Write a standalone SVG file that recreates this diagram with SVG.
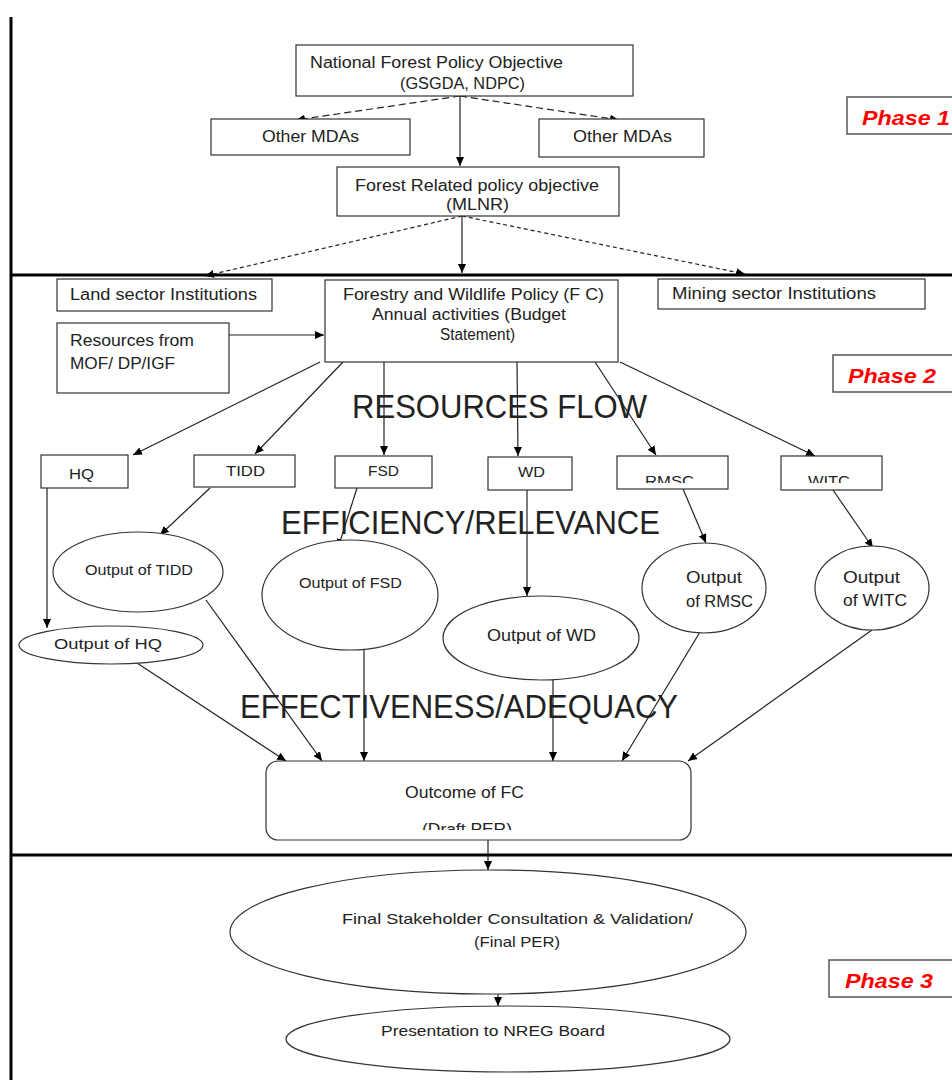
<svg xmlns="http://www.w3.org/2000/svg" width="952" height="1080" viewBox="0 0 952 1080">
<style>
.bx{fill:#fff;stroke:#333;stroke-width:1.2}
.el{fill:#fff;stroke:#333;stroke-width:1.2}
.t{font-family:"Liberation Sans",Arial,sans-serif;font-size:16px;fill:#222}
.s{font-size:15px}
.big{font-family:"Liberation Sans",Arial,sans-serif;font-size:33px;fill:#222}
.ph{font-family:"Liberation Sans",Arial,sans-serif;font-size:21px;font-weight:bold;font-style:italic;fill:#f00}
.pb{fill:#fff;stroke:#555;stroke-width:1.5}
.c{stroke:#222;stroke-width:1.2;fill:none}
.d1{stroke-dasharray:7 4}
.d2{stroke-dasharray:4 3}
.sep{stroke:#000;stroke-width:3;fill:none}
</style>
<defs>
<marker id="a" markerUnits="userSpaceOnUse" markerWidth="10" markerHeight="10" refX="9" refY="5" orient="auto">
<path d="M0,1 L9,5 L0,9 z" fill="#000"/>
</marker>
<clipPath id="cl1"><rect x="600" y="440" width="300" height="43"/></clipPath>
<clipPath id="cl2"><rect x="260" y="760" width="440" height="70"/></clipPath>
</defs>
<rect width="952" height="1080" fill="#fff"/>

<g id="frame">
<line class="sep" x1="11" y1="17" x2="11" y2="1080"/>
<line class="sep" x1="10" y1="275" x2="952" y2="275"/>
<line class="sep" x1="10" y1="855" x2="952" y2="855"/>
</g>

<g id="connectors">
<line class="c" x1="460" y1="96" x2="460" y2="166" marker-end="url(#a)"/>
<line class="c d1" x1="460" y1="96" x2="296" y2="120" marker-end="url(#a)"/>
<line class="c d1" x1="460" y1="96" x2="619" y2="120" marker-end="url(#a)"/>
<line class="c" x1="462" y1="216" x2="462" y2="273" marker-end="url(#a)"/>
<line class="c d2" x1="462" y1="216" x2="205" y2="276" marker-end="url(#a)"/>
<line class="c d2" x1="462" y1="216" x2="745" y2="274" marker-end="url(#a)"/>
<line class="c" x1="229" y1="335" x2="324" y2="335" marker-end="url(#a)"/>
<line class="c" x1="320" y1="362" x2="133" y2="455" marker-end="url(#a)"/>
<line class="c" x1="343" y1="362" x2="255" y2="454" marker-end="url(#a)"/>
<line class="c" x1="384" y1="362" x2="384" y2="455" marker-end="url(#a)"/>
<line class="c" x1="517" y1="362" x2="518" y2="456" marker-end="url(#a)"/>
<line class="c" x1="595" y1="362" x2="656" y2="455" marker-end="url(#a)"/>
<line class="c" x1="620" y1="362" x2="815" y2="456" marker-end="url(#a)"/>
<line class="c" x1="47" y1="488" x2="47" y2="628" marker-end="url(#a)"/>
<line class="c" x1="210" y1="488" x2="160" y2="535" marker-end="url(#a)"/>
<line class="c" x1="357" y1="488" x2="338" y2="548" marker-end="url(#a)"/>
<line class="c" x1="527" y1="490" x2="527" y2="596" marker-end="url(#a)"/>
<line class="c" x1="683" y1="489" x2="706" y2="543" marker-end="url(#a)"/>
<line class="c" x1="833" y1="490" x2="873" y2="548" marker-end="url(#a)"/>
<line class="c" x1="137" y1="663" x2="286" y2="761" marker-end="url(#a)"/>
<line class="c" x1="206" y1="600" x2="322" y2="761" marker-end="url(#a)"/>
<line class="c" x1="364" y1="650" x2="364" y2="761" marker-end="url(#a)"/>
<line class="c" x1="553" y1="679" x2="553" y2="761" marker-end="url(#a)"/>
<line class="c" x1="700" y1="632" x2="622" y2="761" marker-end="url(#a)"/>
<line class="c" x1="872" y1="630" x2="688" y2="761" marker-end="url(#a)"/>
<line class="c" x1="488" y1="840" x2="488" y2="870" marker-end="url(#a)"/>
<line class="c" x1="498" y1="994" x2="498" y2="1006" marker-end="url(#a)"/>
</g>

<g id="labels">
<text class="big" x="352" y="418" textLength="295" lengthAdjust="spacingAndGlyphs">RESOURCES FLOW</text>
<text class="big" x="281" y="534" textLength="379" lengthAdjust="spacingAndGlyphs">EFFICIENCY/RELEVANCE</text>
<text class="big" x="240" y="718" textLength="438" lengthAdjust="spacingAndGlyphs">EFFECTIVENESS/ADEQUACY</text>
</g>

<g id="phase1"><rect class="pb" x="847" y="97" width="110" height="37"/><text class="ph" x="862" y="125" textLength="88" lengthAdjust="spacingAndGlyphs">Phase 1</text></g>
<g id="phase2"><rect class="pb" x="833" y="355" width="125" height="37"/><text class="ph" x="848" y="383" textLength="88" lengthAdjust="spacingAndGlyphs">Phase 2</text></g>
<g id="phase3"><rect class="pb" x="829" y="960" width="128" height="37"/><text class="ph" x="845" y="988" textLength="88" lengthAdjust="spacingAndGlyphs">Phase 3</text></g>

<g id="nfpo"><rect class="bx" x="296" y="45" width="337" height="51"/>
<text class="t" x="310" y="68" textLength="253" lengthAdjust="spacingAndGlyphs">National Forest Policy Objective</text>
<text class="t" x="400" y="89" textLength="125" lengthAdjust="spacingAndGlyphs">(GSGDA, NDPC)</text></g>
<g id="mdaL"><rect class="bx" x="211" y="119" width="199" height="36"/>
<text class="t" x="262" y="142" textLength="97" lengthAdjust="spacingAndGlyphs">Other MDAs</text></g>
<g id="mdaR"><rect class="bx" x="539" y="119" width="165" height="38"/>
<text class="t" x="573" y="142" textLength="99" lengthAdjust="spacingAndGlyphs">Other MDAs</text></g>
<g id="frpo"><rect class="bx" x="337" y="167" width="282" height="49"/>
<text class="t" x="355" y="191" textLength="244" lengthAdjust="spacingAndGlyphs">Forest Related policy objective</text>
<text class="t" x="446" y="210" textLength="63" lengthAdjust="spacingAndGlyphs">(MLNR)</text></g>

<g id="land"><rect class="bx" x="57" y="279" width="215" height="32"/>
<text class="t" x="70" y="300" textLength="187" lengthAdjust="spacingAndGlyphs">Land sector Institutions</text></g>
<g id="fwp"><rect class="bx" x="325" y="280" width="293" height="82"/>
<text class="t" x="343" y="300" textLength="261" lengthAdjust="spacingAndGlyphs">Forestry and Wildlife Policy (F C)</text>
<text class="t" x="372" y="320" textLength="194" lengthAdjust="spacingAndGlyphs">Annual activities (Budget</text>
<text class="t" x="440" y="340" textLength="75" lengthAdjust="spacingAndGlyphs">Statement)</text></g>
<g id="mining"><rect class="bx" x="658" y="279" width="267" height="30"/>
<text class="t" x="672" y="299" textLength="204" lengthAdjust="spacingAndGlyphs">Mining sector Institutions</text></g>
<g id="resources"><rect class="bx" x="57" y="323" width="172" height="70"/>
<text class="t" x="70" y="346" textLength="124" lengthAdjust="spacingAndGlyphs">Resources from</text>
<text class="t" x="70" y="369" textLength="105" lengthAdjust="spacingAndGlyphs">MOF/ DP/IGF</text></g>

<g id="hq"><rect class="bx" x="41" y="455" width="87" height="33"/>
<text class="t s" x="69" y="479" textLength="25" lengthAdjust="spacingAndGlyphs">HQ</text></g>
<g id="tidd"><rect class="bx" x="194" y="455" width="101" height="32"/>
<text class="t s" x="226" y="476" textLength="39" lengthAdjust="spacingAndGlyphs">TIDD</text></g>
<g id="fsd"><rect class="bx" x="335" y="456" width="97" height="32"/>
<text class="t s" x="368" y="476" textLength="31" lengthAdjust="spacingAndGlyphs">FSD</text></g>
<g id="wd"><rect class="bx" x="488" y="457" width="84" height="33"/>
<text class="t s" x="518" y="477" textLength="27" lengthAdjust="spacingAndGlyphs">WD</text></g>
<g id="rmsc"><rect class="bx" x="617" y="456" width="111" height="33"/>
<text class="t s" x="645" y="486" textLength="49" lengthAdjust="spacingAndGlyphs" clip-path="url(#cl1)">RMSC</text></g>
<g id="witc"><rect class="bx" x="781" y="456" width="101" height="34"/>
<text class="t s" x="808" y="486" textLength="42" lengthAdjust="spacingAndGlyphs" clip-path="url(#cl1)">WITC</text></g>

<g id="outTidd"><ellipse class="el" cx="138" cy="572" rx="85" ry="40"/>
<text class="t s" x="85" y="575" textLength="108" lengthAdjust="spacingAndGlyphs">Output of TIDD</text></g>
<g id="outFsd"><ellipse class="el" cx="350" cy="595" rx="88" ry="55"/>
<text class="t s" x="299" y="588" textLength="103" lengthAdjust="spacingAndGlyphs">Output of FSD</text></g>
<g id="outWd"><ellipse class="el" cx="541" cy="638" rx="98" ry="42"/>
<text class="t" x="487" y="641" textLength="109" lengthAdjust="spacingAndGlyphs">Output of WD</text></g>
<g id="outRmsc"><ellipse class="el" cx="704" cy="588" rx="62" ry="45"/>
<text class="t" x="686" y="583" textLength="56" lengthAdjust="spacingAndGlyphs">Output</text>
<text class="t" x="686" y="607" textLength="67" lengthAdjust="spacingAndGlyphs">of RMSC</text></g>
<g id="outWitc"><ellipse class="el" cx="872" cy="588" rx="57" ry="42"/>
<text class="t" x="843" y="583" textLength="57" lengthAdjust="spacingAndGlyphs">Output</text>
<text class="t" x="843" y="606" textLength="64" lengthAdjust="spacingAndGlyphs">of WITC</text></g>
<g id="outHq"><ellipse class="el" cx="111" cy="645" rx="92" ry="19"/>
<text class="t s" x="54" y="649" textLength="108" lengthAdjust="spacingAndGlyphs">Output of HQ</text></g>

<g id="outcome"><rect class="bx" x="266" y="761" width="425" height="79" rx="12"/>
<text class="t" x="405" y="798" textLength="119" lengthAdjust="spacingAndGlyphs">Outcome of FC</text>
<text class="t" x="422" y="835" textLength="90" lengthAdjust="spacingAndGlyphs" clip-path="url(#cl2)">(Draft  PER)</text></g>

<g id="final"><ellipse class="el" cx="488" cy="932" rx="258" ry="62"/>
<text class="t s" x="342" y="924" textLength="351" lengthAdjust="spacingAndGlyphs">Final Stakeholder Consultation &amp; Validation/</text>
<text class="t s" x="474" y="947" textLength="86" lengthAdjust="spacingAndGlyphs">(Final PER)</text></g>
<g id="presentation"><ellipse class="el" cx="508" cy="1039" rx="222" ry="33"/>
<text class="t s" x="381" y="1036" textLength="224" lengthAdjust="spacingAndGlyphs">Presentation to NREG Board</text></g>
</svg>
